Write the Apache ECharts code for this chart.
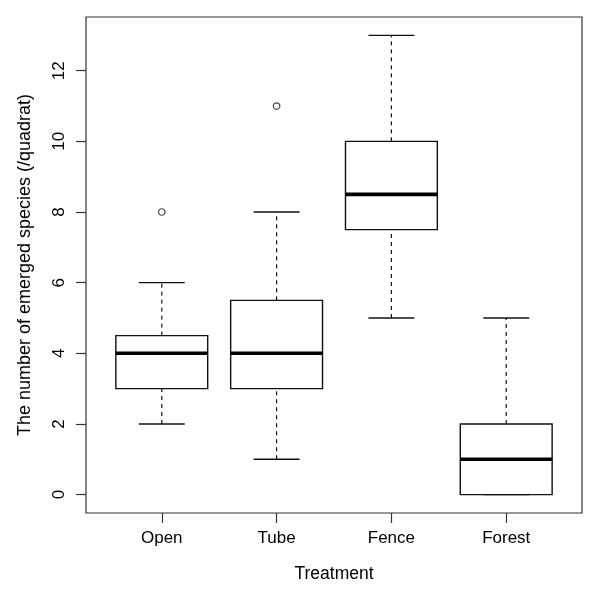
<!DOCTYPE html>
<html>
<head>
<meta charset="utf-8">
<script src="https://cdn.jsdelivr.net/npm/echarts@6/dist/echarts.min.js"></script>
<style>
  html, body { margin: 0; padding: 0; background: #fff; }
  #main { width: 600px; height: 600px; }
</style>
</head>
<body>
<div id="main"></div>
<script>
// boxplot stats
var categories = ['Open', 'Tube', 'Fence', 'Forest'];
var lowerWhisker = [2, 1, 5, 0];
var q1 = [3, 3, 7.5, 0];
var median = [4, 4, 8.5, 1];
var q3 = [4.5, 5.5, 10, 2];
var upperWhisker = [6, 8, 13, 5];
var outlierGroup = [1, 2];
var outlierValue = [8, 11];
var yTicks = [0, 2, 4, 6, 8, 10, 12];
var xTicks = [1, 2, 3, 4];

var FONT = 'Liberation Sans, Arial, sans-serif';

var boxData = categories.map(function (c, i) {
    return [i + 1, lowerWhisker[i], q1[i], median[i], q3[i], upperWhisker[i]];
});
var outlierData = outlierGroup.map(function (g, i) {
    return [g, outlierValue[i]];
});

function renderBox(params, api) {
    var x = api.value(0);
    var pLo = api.coord([x, api.value(1)]);
    var pQ1 = api.coord([x, api.value(2)]);
    var pMed = api.coord([x, api.value(3)]);
    var pQ3 = api.coord([x, api.value(4)]);
    var pHi = api.coord([x, api.value(5)]);
    var halfBox = api.size([0.8, 0])[0] / 2;
    var halfCap = api.size([0.4, 0])[0] / 2;
    var cx = pMed[0];
    return {
        type: 'group',
        children: [
            // dashed whiskers
            {type: 'line', shape: {x1: cx, y1: pLo[1], x2: cx, y2: pQ1[1]},
                style: {stroke: '#111', lineWidth: 1.2, lineDash: [4, 4]}},
            {type: 'line', shape: {x1: cx, y1: pQ3[1], x2: cx, y2: pHi[1]},
                style: {stroke: '#111', lineWidth: 1.2, lineDash: [4, 4]}},
            // caps
            {type: 'line', shape: {x1: cx - halfCap, y1: pLo[1], x2: cx + halfCap, y2: pLo[1]},
                style: {stroke: '#111', lineWidth: 1.4}},
            {type: 'line', shape: {x1: cx - halfCap, y1: pHi[1], x2: cx + halfCap, y2: pHi[1]},
                style: {stroke: '#111', lineWidth: 1.4}},
            // box
            {type: 'rect', shape: {x: cx - halfBox, y: pQ3[1], width: halfBox * 2, height: pQ1[1] - pQ3[1]},
                style: {fill: '#fff', stroke: '#111', lineWidth: 1.4}},
            // median
            {type: 'line', shape: {x1: cx - halfBox, y1: pMed[1], x2: cx + halfBox, y2: pMed[1]},
                style: {stroke: '#000', lineWidth: 3.6}}
        ]
    };
}

var chart = echarts.init(document.getElementById('main'));
chart.setOption({
    animation: false,
    backgroundColor: '#fff',
    grid: {
        left: 86, right: 18, top: 17, bottom: 87,
        show: true, borderColor: '#333', borderWidth: 1.2, backgroundColor: 'transparent'
    },
    xAxis: {
        type: 'value',
        min: 0.34,
        max: 4.66,
        name: 'Treatment',
        nameLocation: 'middle',
        nameGap: 52,
        nameTextStyle: {fontFamily: FONT, fontSize: 17.5, color: '#000'},
        axisLine: {show: false, onZero: false},
        splitLine: {show: false},
        axisTick: {show: true, length: 10, customValues: xTicks, lineStyle: {color: '#333', width: 1.2}},
        axisLabel: {
            customValues: xTicks,
            margin: 17,
            fontFamily: FONT, fontSize: 17, color: '#000',
            formatter: function (v) { return categories[Math.round(v) - 1] || ''; }
        }
    },
    yAxis: {
        type: 'value',
        min: -0.52,
        max: 13.52,
        name: 'The number of emerged species (/quadrat)',
        nameLocation: 'middle',
        nameGap: 52,
        nameTextStyle: {fontFamily: FONT, fontSize: 18, color: '#000'},
        axisLine: {show: false, onZero: false},
        splitLine: {show: false},
        axisTick: {show: true, length: 10, customValues: yTicks, lineStyle: {color: '#333', width: 1.2}},
        axisLabel: {
            customValues: yTicks,
            rotate: 90,
            margin: 18,
            fontFamily: FONT, fontSize: 17, color: '#000'
        }
    },
    series: [
        {
            type: 'custom',
            renderItem: renderBox,
            encode: {x: 0, y: [1, 2, 3, 4, 5]},
            data: boxData
        },
        {
            type: 'scatter',
            symbol: 'circle',
            symbolSize: 6.5,
            itemStyle: {color: '#fff', borderColor: '#111', borderWidth: 1.2},
            data: outlierData
        }
    ]
});
</script>
</body>
</html>
